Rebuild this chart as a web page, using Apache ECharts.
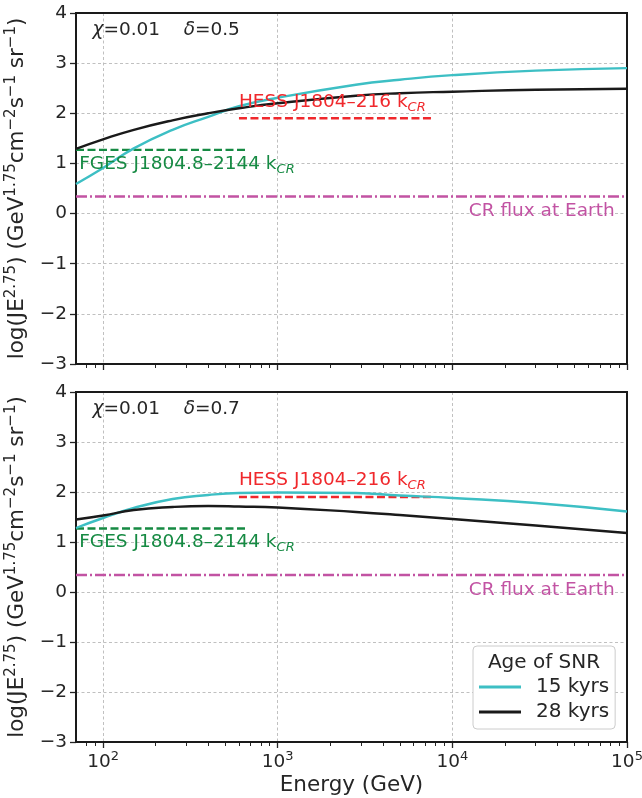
<!DOCTYPE html>
<html>
<head>
<meta charset="UTF-8"/>
<title></title>
<script src="https://cdn.jsdelivr.net/npm/echarts@6/dist/echarts.min.js"></script>
<style>
  html, body { margin: 0; padding: 0; background: #fff; }
  #chart { width: 642px; height: 798px; }
</style>
</head>
<body>
<div id="chart"></div>
<script>
// energies in GeV, values are log(J E^2.75)
var energies = [70, 100, 150, 250, 400, 600, 1000, 2800, 5000, 10000, 30000, 100000];
var top15 = [0.59, 0.91, 1.30, 1.67, 1.93, 2.14, 2.31, 2.57, 2.67, 2.76, 2.85, 2.90];
var top28 = [1.29, 1.48, 1.67, 1.86, 2.00, 2.10, 2.20, 2.35, 2.40, 2.43, 2.47, 2.49];
var bot15 = [1.28, 1.48, 1.68, 1.86, 1.94, 1.98, 1.99, 1.98, 1.93, 1.88, 1.78, 1.61];
var bot28 = [1.45, 1.53, 1.64, 1.70, 1.72, 1.71, 1.69, 1.60, 1.54, 1.46, 1.33, 1.18];

// reference levels
var fgesE = [70, 650];      var fgesK = 1.27;
var hessE = [600, 7800];    var hessK = 1.90;
var earthE = [70, 100000];  var earthK = 0.34;

var xMin = 70, xMax = 100000;
var xTicks = [100, 1000, 10000, 100000];
var panelText = ['=0.5', '=0.7'];

var c15 = '#3dbfc4', c28 = '#1a1a1a', cRed = '#f0282c', cGreen = '#168a43', cMag = '#c253a3';
var txt = '#262626';
var FS = 18.5;   // tick labels, notes
var NFS = 21.5;  // axis titles

var lg = function (v) { return Math.log10(v); };
var minorTicks = [];
for (var d = 1; d <= 4; d++) {
  for (var k = 2; k <= 9; k++) {
    var v = k * Math.pow(10, d);
    if (v > xMin && v < xMax) minorTicks.push(lg(v));
  }
}
function pairs(xs, ys) { return xs.map(function (x, i) { return [lg(x), ys[i]]; }); }
function flat(xs, k) { return xs.map(function (x) { return [lg(x), k]; }); }

var chart = echarts.init(document.getElementById('chart'));
var grids = [
  { left: 76, right: 15, top: 13, height: 351 },
  { left: 76, right: 15, top: 392, height: 350 }
];
var tickRich = {
  n: { fontSize: FS, color: txt, fontFamily: 'DejaVu Sans', lineHeight: 24 },
  s: { fontSize: 13, color: txt, fontFamily: 'DejaVu Sans', lineHeight: 13, verticalAlign: 'top' }
};
var nameRich = {
  n: { fontSize: NFS, color: txt, fontFamily: 'DejaVu Sans', lineHeight: 28 },
  s: { fontSize: 15, color: txt, fontFamily: 'DejaVu Sans', lineHeight: 15, verticalAlign: 'top' }
};
var gridLine = { show: true, lineStyle: { color: '#b9b9b9', width: 0.9, type: [3, 2.5] } };

var xAxes = [], yAxes = [], series = [];
[0, 1].forEach(function (g) {
  xAxes.push({
    type: 'value', gridIndex: g, min: lg(xMin), max: lg(xMax), position: 'bottom',
    axisLine: { show: false, onZero: false },
    axisTick: { show: true, length: 6, lineStyle: { color: txt, width: 1.3 }, customValues: xTicks.map(lg) },
    axisLabel: {
      show: g === 1, margin: 8, customValues: xTicks.map(lg),
      formatter: function (v) { return '{n|10}{s|' + Math.round(v) + '}'; },
      rich: tickRich
    },
    splitLine: gridLine,
    name: g === 1 ? 'Energy (GeV)' : '', nameLocation: 'middle', nameGap: 32,
    nameTextStyle: { fontSize: NFS, color: txt, fontFamily: 'DejaVu Sans' }
  });
  yAxes.push({
    type: 'value', gridIndex: g, min: -3, max: 4, interval: 1,
    axisLine: { show: false, onZero: false },
    axisTick: { show: true, length: 6, lineStyle: { color: txt, width: 1.3 } },
    axisLabel: {
      margin: 9, fontSize: FS, color: txt, fontFamily: 'DejaVu Sans',
      formatter: function (v) { return v < 0 ? '\u2212' + Math.abs(v) : String(v); }
    },
    splitLine: gridLine,
    name: '{n|log(JE}{s|2.75}{n|) (GeV}{s|1.75}{n|cm}{s|\u22122}{n|s}{s|\u22121}{n| sr}{s|\u22121}{n|)}',
    nameLocation: 'middle', nameRotate: 90, nameGap: 33,
    nameTextStyle: { rich: nameRich }
  });
});
[0, 1].forEach(function (g) {
  xAxes.push({
    type: 'value', gridIndex: g, min: lg(xMin), max: lg(xMax), position: 'bottom',
    axisLine: { show: false, onZero: false },
    axisTick: { show: true, length: 4, lineStyle: { color: txt, width: 1 }, customValues: minorTicks },
    axisLabel: { show: false, customValues: minorTicks },
    splitLine: { show: false }
  });
});

function line(name, g, data, color, type, z) {
  return {
    name: name, type: 'line', xAxisIndex: g, yAxisIndex: g, data: data,
    color: color, showSymbol: false, symbol: 'none', silent: true, z: z || 2,
    lineStyle: { color: color, width: 2.4, type: type || 'solid' }
  };
}
[0, 1].forEach(function (g) {
  series.push(line('fges', g, flat(fgesE, fgesK), cGreen, [8, 3.5], 3));
  series.push(line('hess', g, flat(hessE, hessK), cRed, [8, 3.5], 3));
  series.push(line('earth', g, flat(earthE, earthK), cMag, [11, 3, 2, 3], 3));
});
series.push(line('15 kyrs', 0, pairs(energies, top15), c15, 'solid', 4));
series.push(line('28 kyrs', 0, pairs(energies, top28), c28, 'solid', 5));
series.push(line('15 kyrs', 1, pairs(energies, bot15), c15, 'solid', 4));
series.push(line('28 kyrs', 1, pairs(energies, bot28), c28, 'solid', 5));
series.forEach(function (s) {
  if (s.name === '15 kyrs' || s.name === '28 kyrs') s.smooth = 0.5;
});

chart.setOption({
  animation: false,
  backgroundColor: '#fff',
  grid: grids.map(function (gr) {
    return Object.assign({
      show: true, z: 1, borderColor: '#1a1a1a', borderWidth: 2, backgroundColor: 'transparent',
      containLabel: false, outerBoundsMode: 'none'
    }, gr);
  }),
  xAxis: xAxes,
  yAxis: yAxes,
  legend: {
    data: ['15 kyrs', '28 kyrs'], orient: 'vertical', left: 473, top: 646,
    icon: 'rect', itemWidth: 42, itemHeight: 3, itemGap: 5,
    padding: [31, 6, 7, 6], backgroundColor: '#fff', borderColor: '#cccccc', borderWidth: 1, borderRadius: 4,
    selectedMode: false,
    textStyle: { fontSize: 20, color: txt, fontFamily: 'DejaVu Sans', padding: [0, 0, 0, 10] }
  },
  series: series
});

// annotations, anchored in data coordinates
var labelRich = {
  n: { fontSize: FS, fontFamily: 'DejaVu Sans', lineHeight: 24 },
  i: { fontSize: FS, fontFamily: 'DejaVu Sans', fontStyle: 'italic', lineHeight: 24 },
  sub: { fontSize: 13, fontFamily: 'DejaVu Sans', fontStyle: 'italic', lineHeight: 13, verticalAlign: 'bottom' }
};
function at(g, e, y) { return chart.convertToPixel({ gridIndex: g }, [lg(e), y]); }
function note(p, text, color, align) {
  var rich = JSON.parse(JSON.stringify(labelRich));
  Object.keys(rich).forEach(function (k) { rich[k].fill = color; });
  return {
    type: 'text', x: p[0], y: p[1], z: 50, silent: true,
    style: { text: text, rich: rich, fill: color, align: align || 'left', verticalAlign: 'middle' }
  };
}
var gfx = [];
[0, 1].forEach(function (g) {
  gfx.push(note(at(g, 87, 3.65), '{i|\u03c7}{n|=0.01    }{i|\u03b4}{n|' + panelText[g] + '}', txt));
  gfx.push(note(at(g, 600, 2.23), '{n|HESS J1804\u2013216 k}{sub|CR}', cRed));
  gfx.push(note(at(g, 73, 0.99), '{n|FGES J1804.8\u20132144 k}{sub|CR}', cGreen));
  gfx.push(note(at(g, 85000, 0.04), '{n|CR flux at Earth}', cMag, 'right'));
});
gfx.push({
  type: 'text', x: 544, y: 663, z: 60, silent: true,
  style: { text: 'Age of SNR', fontSize: 20, fontFamily: 'DejaVu Sans', fill: txt, align: 'center', verticalAlign: 'middle' }
});
chart.setOption({ graphic: gfx });
</script>
</body>
</html>
